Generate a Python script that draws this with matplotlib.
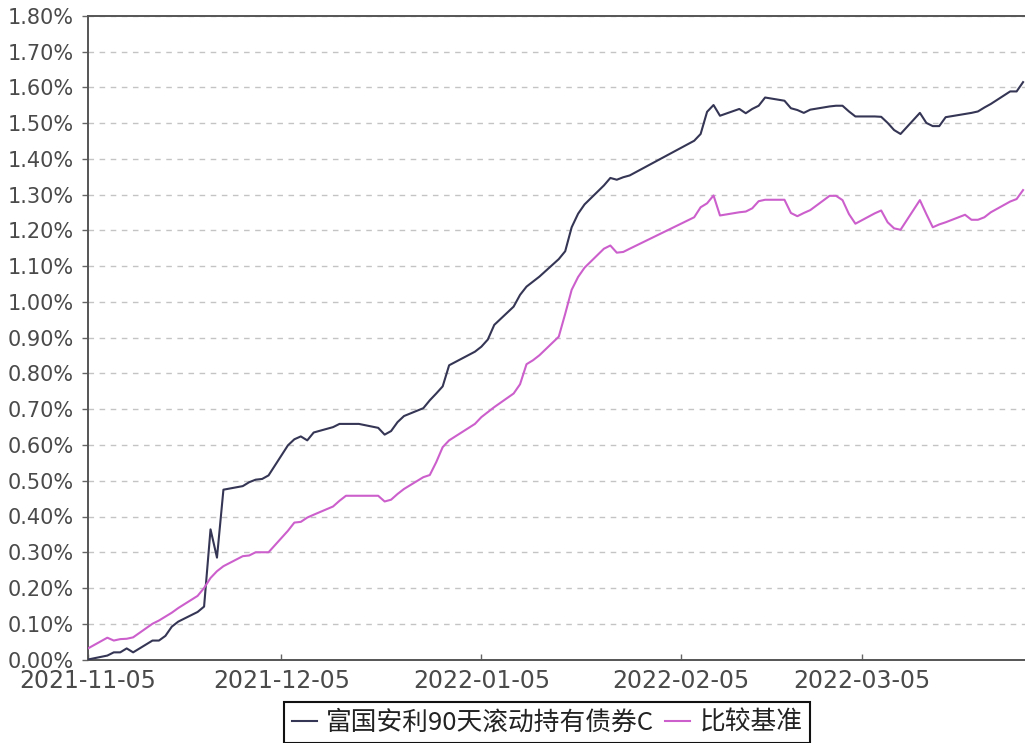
import matplotlib
matplotlib.use("Agg")
import matplotlib.pyplot as plt
import numpy as np
import pandas as pd
from matplotlib.ticker import FuncFormatter

plt.rcParams['font.family'] = ['DejaVu Sans']

# ---------------- data ----------------
dates = [
    "2021-11-05", "2021-11-08", "2021-11-09", "2021-11-10", "2021-11-11", "2021-11-12",
    "2021-11-15", "2021-11-16", "2021-11-17", "2021-11-18", "2021-11-19",
    "2021-11-22", "2021-11-23", "2021-11-24", "2021-11-25", "2021-11-26",
    "2021-11-29", "2021-11-30", "2021-12-01", "2021-12-02", "2021-12-03",
    "2021-12-06", "2021-12-07", "2021-12-08", "2021-12-09", "2021-12-10",
    "2021-12-13", "2021-12-14", "2021-12-15", "2021-12-16", "2021-12-17",
    "2021-12-20", "2021-12-21", "2021-12-22", "2021-12-23", "2021-12-24",
    "2021-12-27", "2021-12-28", "2021-12-29", "2021-12-30", "2021-12-31",
    "2022-01-04", "2022-01-05", "2022-01-06", "2022-01-07",
    "2022-01-10", "2022-01-11", "2022-01-12", "2022-01-13", "2022-01-14",
    "2022-01-17", "2022-01-18", "2022-01-19", "2022-01-20", "2022-01-21",
    "2022-01-24", "2022-01-25", "2022-01-26", "2022-01-27", "2022-01-28",
    "2022-02-07", "2022-02-08", "2022-02-09", "2022-02-10", "2022-02-11",
    "2022-02-14", "2022-02-15", "2022-02-16", "2022-02-17", "2022-02-18",
    "2022-02-21", "2022-02-22", "2022-02-23", "2022-02-24", "2022-02-25",
    "2022-02-28", "2022-03-01", "2022-03-02", "2022-03-03", "2022-03-04",
    "2022-03-07", "2022-03-08", "2022-03-09", "2022-03-10", "2022-03-11",
    "2022-03-14", "2022-03-15", "2022-03-16", "2022-03-17", "2022-03-18",
    "2022-03-21", "2022-03-22", "2022-03-23", "2022-03-24", "2022-03-25",
    "2022-03-28", "2022-03-29", "2022-03-30",
]

fund_return = [  # 富国安利90天滚动持有债券C, %
    0.000, 0.011, 0.020, 0.020, 0.031, 0.020,
    0.053, 0.053, 0.066, 0.092, 0.106,
    0.133, 0.148, 0.364, 0.285, 0.475,
    0.485, 0.496, 0.503, 0.505, 0.515,
    0.599, 0.616, 0.624, 0.613, 0.635,
    0.650, 0.659, 0.659, 0.659, 0.659,
    0.648, 0.629, 0.639, 0.664, 0.681,
    0.703, 0.725, 0.744, 0.764, 0.823,
    0.861, 0.875, 0.895, 0.936,
    0.987, 1.020, 1.043, 1.057, 1.071,
    1.120, 1.142, 1.209, 1.247, 1.273,
    1.326, 1.347, 1.342, 1.349, 1.354,
    1.451, 1.470, 1.532, 1.551, 1.521,
    1.540, 1.528, 1.540, 1.549, 1.572,
    1.563, 1.542, 1.537, 1.529, 1.538,
    1.547, 1.549, 1.549, 1.533, 1.519,
    1.519, 1.518, 1.501, 1.481, 1.470,
    1.529, 1.501, 1.492, 1.492, 1.517,
    1.526, 1.529, 1.533, 1.544, 1.554,
    1.589, 1.589, 1.615,
]

bench_return = [  # 比较基准, %
    0.031, 0.061, 0.053, 0.057, 0.058, 0.062,
    0.100, 0.109, 0.120, 0.131, 0.144,
    0.178, 0.200, 0.228, 0.247, 0.261,
    0.289, 0.291, 0.300, 0.300, 0.300,
    0.360, 0.383, 0.385, 0.397, 0.405,
    0.428, 0.444, 0.458, 0.458, 0.458,
    0.458, 0.442, 0.447, 0.463, 0.477,
    0.510, 0.516, 0.552, 0.594, 0.613,
    0.659, 0.678, 0.692, 0.706,
    0.744, 0.770, 0.826, 0.837, 0.851,
    0.903, 0.967, 1.034, 1.070, 1.096,
    1.149, 1.158, 1.138, 1.140, 1.149,
    1.237, 1.265, 1.276, 1.298, 1.242,
    1.251, 1.253, 1.262, 1.282, 1.286,
    1.286, 1.249, 1.240, 1.249, 1.257,
    1.297, 1.297, 1.285, 1.246, 1.219,
    1.248, 1.256, 1.223, 1.206, 1.202,
    1.285, 1.246, 1.209, 1.217, 1.223,
    1.244, 1.230, 1.230, 1.237, 1.251,
    1.281, 1.288, 1.313,
]

series_names = ["富国安利90天滚动持有债券C", "比较基准"]
tick_labels = ["2021-11-05", "2021-12-05", "2022-01-05", "2022-02-05", "2022-03-05"]
y_ticks = [round(0.1 * k, 2) for k in range(19)]

# ---------------- figure ----------------
W, H = 1025, 743
fig = plt.figure(figsize=(W / 100, H / 100), dpi=100)
left_px, right_px, top_px, bottom_px = 88, 1025, 16, 659.5
ax = fig.add_axes([left_px / W, (H - bottom_px) / H,
                   (right_px - left_px) / W, (bottom_px - top_px) / H])

x = pd.to_datetime(dates)
l1, = ax.plot(x, fund_return, color="#353555", lw=1.5, label=series_names[0], zorder=3)
l2, = ax.plot(x, bench_return, color="#cc5fcc", lw=1.5, label=series_names[1], zorder=3)

ax.set_ylim(0, 1.8)
ax.set_yticks(y_ticks)
ax.yaxis.set_major_formatter(FuncFormatter(lambda v, p: f"{v:.2f}%"))

x0 = pd.Timestamp(dates[0])
ax.set_xlim(x0, x0 + pd.Timedelta(days=145.3))
ax.set_xticks(pd.to_datetime(tick_labels))
ax.set_xticklabels(tick_labels)

ax.yaxis.grid(True, linestyle=(0, (4, 4)), color="#c4c4c4", linewidth=1.0, zorder=1)
ax.xaxis.grid(False)
ax.set_axisbelow(True)

for side in ("left", "bottom", "top"):
    ax.spines[side].set_color("#555555")
    ax.spines[side].set_linewidth(1.4)
ax.spines["right"].set_visible(False)

ax.tick_params(axis="y", direction="out", length=4, width=1, color="#666666",
               labelsize=15, labelcolor="#4a4a4a", pad=6)
ax.tick_params(axis="x", direction="in", length=4, width=1, color="#666666",
               labelsize=17, labelcolor="#4a4a4a", pad=7)

leg = fig.legend(handles=[l1, l2], labels=series_names, loc="upper center",
                 bbox_to_anchor=(547 / W, 1 - 702 / H), ncol=2, frameon=True,
                 fancybox=False, edgecolor="#111111", framealpha=1,
                 handlelength=1.0, handletextpad=0.35, columnspacing=0.4,
                 borderpad=0.3, borderaxespad=0,
                 prop={"family": ["Noto Sans CJK SC", "DejaVu Sans"], "size": 18.5})
leg.get_frame().set_linewidth(1.5)
for t in leg.get_texts():
    t.set_color("#222222")

fig.savefig("out.png", dpi=100)
